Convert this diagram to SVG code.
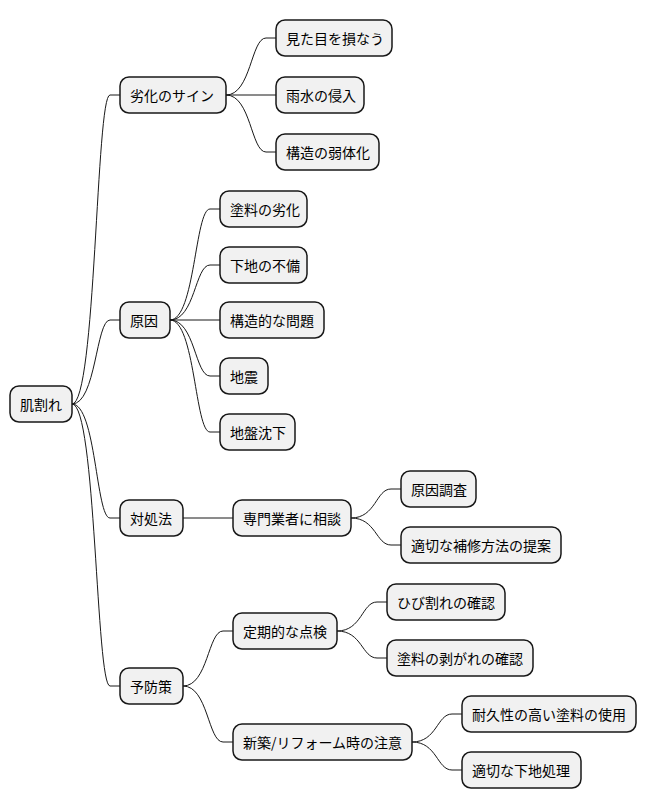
<svg xmlns="http://www.w3.org/2000/svg" width="647" height="809" viewBox="0 0 647 809">
<style>
.n rect{fill:#F1F1F1;stroke:#181818;stroke-width:1.5}
.n text{font-family:"Noto Sans CJK JP","Liberation Sans",sans-serif;font-size:14px;fill:#000;dominant-baseline:central}
#c path{fill:none;stroke:#181818;stroke-width:1}
</style>
<rect width="647" height="809" fill="#fff"/>
<g id="c">
<path d="M72,404 C96,404 96,95 110,95 L120,95"/>
<path d="M72,404 C96,404 96,320 110,320 L120,320"/>
<path d="M72,404 C96,404 96,518 110,518 L120,518"/>
<path d="M72,404 C96,404 96,686 110,686 L120,686"/>
<path d="M226,95 C251,95 251,38 266,38 L276,38"/>
<path d="M226,95 L276,95"/>
<path d="M226,95 C251,95 251,152 266,152 L276,152"/>
<path d="M170,320 C195,320 195,209 210,209 L220,209"/>
<path d="M170,320 C195,320 195,265 210,265 L220,265"/>
<path d="M170,320 L220,320"/>
<path d="M170,320 C195,320 195,376 210,376 L220,376"/>
<path d="M170,320 C195,320 195,432 210,432 L220,432"/>
<path d="M183,518 L233,518"/>
<path d="M351,518 C376,518 376,489 391,489 L401,489"/>
<path d="M351,518 C376,518 376,545 391,545 L401,545"/>
<path d="M183,686 C208,686 208,631 223,631 L233,631"/>
<path d="M183,686 C208,686 208,742 223,742 L233,742"/>
<path d="M337,631 C362,631 362,602 377,602 L387,602"/>
<path d="M337,631 C362,631 362,658 377,658 L387,658"/>
<path d="M412,742 C437,742 437,714 452,714 L462,714"/>
<path d="M412,742 C437,742 437,770 452,770 L462,770"/>
</g>
<g id="n0" class="n"><rect x="10" y="386" width="62" height="36" rx="9"/><text x="20" y="404">肌割れ</text></g>
<g id="n1" class="n"><rect x="120" y="77" width="106" height="36" rx="9"/><text x="130" y="95">劣化のサイン</text></g>
<g id="n2" class="n"><rect x="276" y="20" width="116" height="36" rx="9"/><text x="286" y="38">見た目を損なう</text></g>
<g id="n3" class="n"><rect x="276" y="77" width="88" height="36" rx="9"/><text x="286" y="95">雨水の侵入</text></g>
<g id="n4" class="n"><rect x="276" y="134" width="103" height="36" rx="9"/><text x="286" y="152">構造の弱体化</text></g>
<g id="n5" class="n"><rect x="120" y="302" width="50" height="36" rx="9"/><text x="130" y="320">原因</text></g>
<g id="n6" class="n"><rect x="220" y="191" width="87" height="36" rx="9"/><text x="230" y="209">塗料の劣化</text></g>
<g id="n7" class="n"><rect x="220" y="247" width="87" height="36" rx="9"/><text x="230" y="265">下地の不備</text></g>
<g id="n8" class="n"><rect x="220" y="302" width="104" height="36" rx="9"/><text x="230" y="320">構造的な問題</text></g>
<g id="n9" class="n"><rect x="220" y="358" width="48" height="36" rx="9"/><text x="230" y="376">地震</text></g>
<g id="n10" class="n"><rect x="220" y="414" width="75" height="36" rx="9"/><text x="230" y="432">地盤沈下</text></g>
<g id="n11" class="n"><rect x="120" y="500" width="63" height="36" rx="9"/><text x="130" y="518">対処法</text></g>
<g id="n12" class="n"><rect x="233" y="500" width="118" height="36" rx="9"/><text x="243" y="518">専門業者に相談</text></g>
<g id="n13" class="n"><rect x="401" y="471" width="75" height="36" rx="9"/><text x="411" y="489">原因調査</text></g>
<g id="n14" class="n"><rect x="401" y="527" width="160" height="36" rx="9"/><text x="411" y="545">適切な補修方法の提案</text></g>
<g id="n15" class="n"><rect x="120" y="668" width="63" height="36" rx="9"/><text x="130" y="686">予防策</text></g>
<g id="n16" class="n"><rect x="233" y="613" width="104" height="36" rx="9"/><text x="243" y="631">定期的な点検</text></g>
<g id="n17" class="n"><rect x="387" y="584" width="118" height="36" rx="9"/><text x="397" y="602">ひび割れの確認</text></g>
<g id="n18" class="n"><rect x="387" y="640" width="146" height="36" rx="9"/><text x="397" y="658">塗料の剥がれの確認</text></g>
<g id="n19" class="n"><rect x="233" y="724" width="179" height="36" rx="9"/><text x="243" y="742">新築/リフォーム時の注意</text></g>
<g id="n20" class="n"><rect x="462" y="696" width="174" height="36" rx="9"/><text x="472" y="714">耐久性の高い塗料の使用</text></g>
<g id="n21" class="n"><rect x="462" y="752" width="119" height="36" rx="9"/><text x="472" y="770">適切な下地処理</text></g>
</svg>
